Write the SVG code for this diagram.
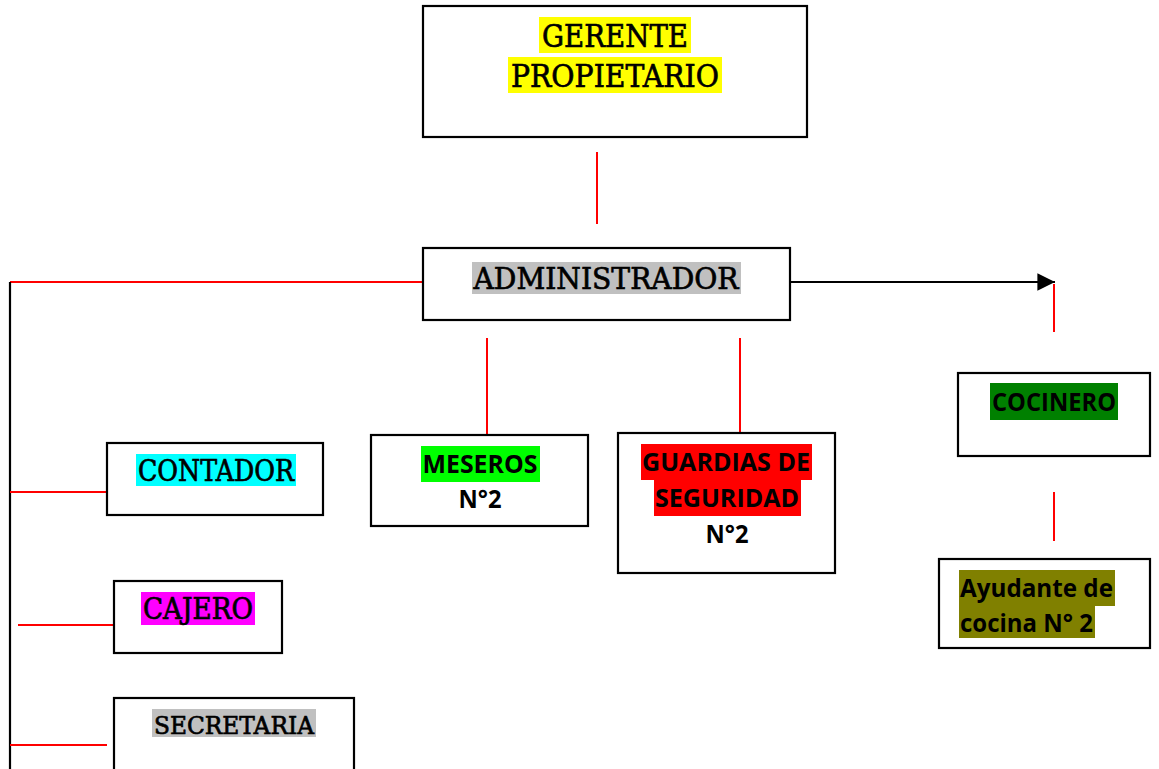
<svg xmlns="http://www.w3.org/2000/svg" width="1159" height="769" viewBox="0 0 1159 769">
<style>
.box{fill:#fff;stroke:#000;stroke-width:2.2}
.red{stroke:#ff0000;stroke-width:2;fill:none}
.blk{stroke:#000;stroke-width:2.2;fill:none}
.serif{font-family:"DejaVu Serif","Liberation Serif",serif;fill:#000;stroke:#000;stroke-width:0.7}
.sans{font-family:"Open Sans","Noto Sans","Liberation Sans",sans-serif;font-weight:bold;fill:#000}
</style>
<defs>
<marker id="arr" markerWidth="8" markerHeight="8" refX="8" refY="4" orient="auto" markerUnits="strokeWidth">
<path d="M0,0 L8,4 L0,8 Z" fill="#000"/>
</marker>
</defs>
<rect width="1159" height="769" fill="#fff"/>
<g id="connectors">
<line class="red" x1="597" y1="152" x2="597" y2="224"/>
<line class="blk" x1="790" y1="282" x2="1055" y2="282" marker-end="url(#arr)"/>
<line class="red" x1="1054" y1="284" x2="1054" y2="332"/>
<line class="red" x1="10" y1="282" x2="423" y2="282"/>
<line class="blk" x1="10" y1="282" x2="10" y2="769"/>
<line class="red" x1="10" y1="492" x2="107" y2="492"/>
<line class="red" x1="18" y1="625" x2="114" y2="625"/>
<line class="red" x1="10" y1="745" x2="107" y2="745"/>
<line class="red" x1="487" y1="338" x2="487" y2="435"/>
<line class="red" x1="740" y1="338" x2="740" y2="433"/>
<line class="red" x1="1054" y1="492" x2="1054" y2="541"/>
</g>
<g id="gerente">
<rect class="box" x="423" y="6" width="384" height="131"/>
<rect x="539" y="17" width="152" height="36" fill="#ffff00"/>
<rect x="508" y="57" width="214" height="36" fill="#ffff00"/>
<text class="serif" x="615" y="47" font-size="32" text-anchor="middle" textLength="146" lengthAdjust="spacingAndGlyphs">GERENTE</text>
<text class="serif" x="615" y="87" font-size="32" text-anchor="middle" textLength="208" lengthAdjust="spacingAndGlyphs">PROPIETARIO</text>
</g>
<g id="administrador">
<rect class="box" x="423" y="248" width="367" height="72"/>
<rect x="472" y="262" width="269" height="32" fill="#c0c0c0"/>
<text class="serif" x="606" y="289" font-size="30" text-anchor="middle" textLength="265" lengthAdjust="spacingAndGlyphs">ADMINISTRADOR</text>
</g>
<g id="contador">
<rect class="box" x="107" y="443" width="216" height="72"/>
<rect x="136" y="454" width="160" height="32" fill="#00ffff"/>
<text class="serif" x="216" y="481" font-size="29" text-anchor="middle" textLength="156" lengthAdjust="spacingAndGlyphs">CONTADOR</text>
</g>
<g id="cajero">
<rect class="box" x="114" y="581" width="168" height="72"/>
<rect x="141" y="592" width="114" height="33" fill="#ff00ff"/>
<text class="serif" x="198" y="619" font-size="29" text-anchor="middle" textLength="110" lengthAdjust="spacingAndGlyphs">CAJERO</text>
</g>
<g id="secretaria">
<rect class="box" x="114" y="698" width="240" height="80"/>
<rect x="152" y="709" width="164" height="28" fill="#c0c0c0"/>
<text class="serif" x="234" y="734" font-size="25" text-anchor="middle" textLength="160" lengthAdjust="spacingAndGlyphs">SECRETARIA</text>
</g>
<g id="meseros">
<rect class="box" x="371" y="435" width="217" height="91"/>
<rect x="421" y="446" width="119" height="36" fill="#00ff00"/>
<text class="sans" x="480" y="473" font-size="25" text-anchor="middle" textLength="115" lengthAdjust="spacingAndGlyphs">MESEROS</text>
<text class="sans" x="480" y="508" font-size="25" text-anchor="middle" textLength="43" lengthAdjust="spacingAndGlyphs">N°2</text>
</g>
<g id="guardias">
<rect class="box" x="618" y="433" width="217" height="140"/>
<rect x="641" y="444" width="171" height="36" fill="#ff0000"/>
<rect x="654" y="480" width="147" height="36" fill="#ff0000"/>
<text class="sans" x="726" y="471" font-size="25" text-anchor="middle" textLength="168" lengthAdjust="spacingAndGlyphs">GUARDIAS DE</text>
<text class="sans" x="727" y="507" font-size="25" text-anchor="middle" textLength="144" lengthAdjust="spacingAndGlyphs">SEGURIDAD</text>
<text class="sans" x="727" y="543" font-size="25" text-anchor="middle" textLength="43" lengthAdjust="spacingAndGlyphs">N°2</text>
</g>
<g id="cocinero">
<rect class="box" x="958" y="373" width="192" height="83"/>
<rect x="990" y="383" width="128" height="37" fill="#008000"/>
<text class="sans" x="1054" y="411" font-size="25" text-anchor="middle" textLength="124" lengthAdjust="spacingAndGlyphs">COCINERO</text>
</g>
<g id="ayudante">
<rect class="box" x="939" y="559" width="211" height="89"/>
<rect x="959" y="570" width="156" height="36" fill="#808000"/>
<rect x="959" y="606" width="136" height="32" fill="#808000"/>
<text class="sans" x="960" y="597" font-size="25" textLength="153" lengthAdjust="spacingAndGlyphs">Ayudante de</text>
<text class="sans" x="960" y="632" font-size="25" textLength="133" lengthAdjust="spacingAndGlyphs">cocina N° 2</text>
</g>
</svg>
